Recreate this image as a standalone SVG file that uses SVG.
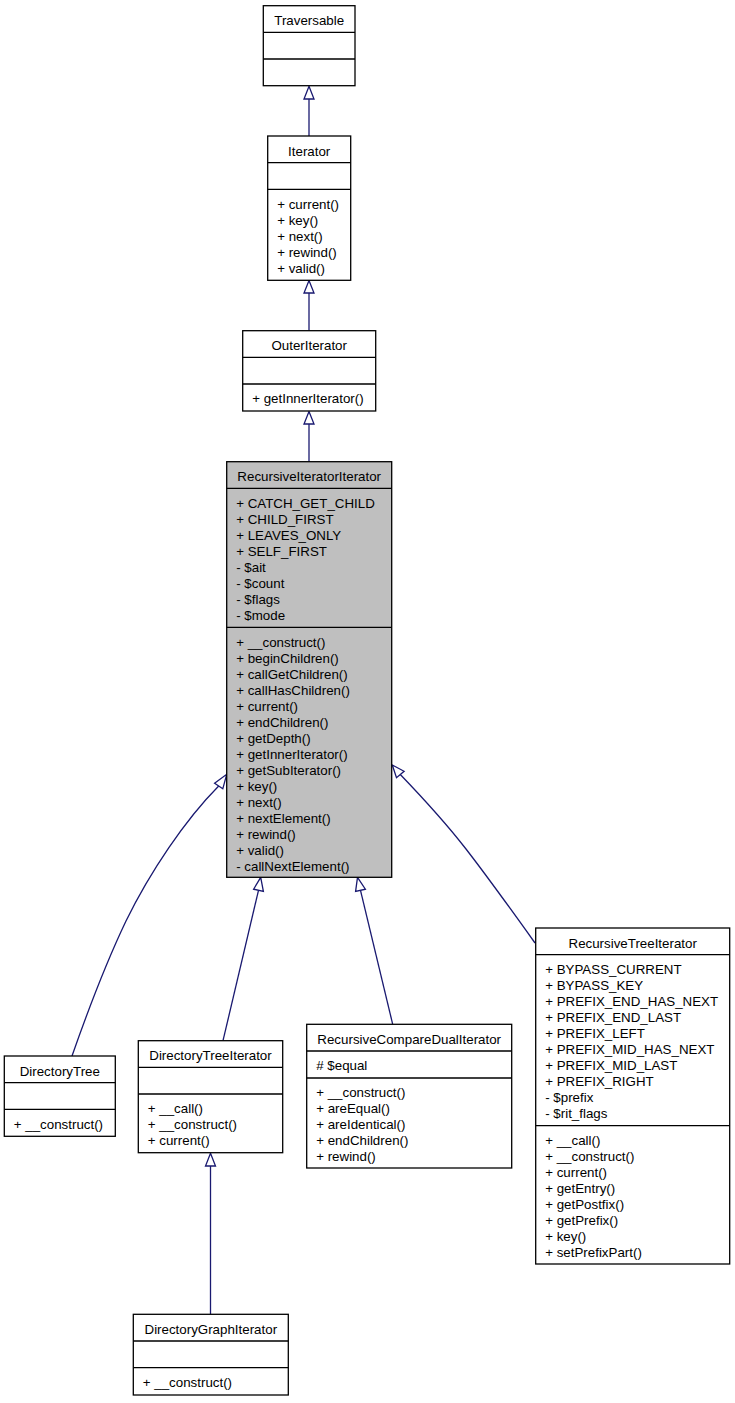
<svg xmlns="http://www.w3.org/2000/svg" width="735" height="1403" viewBox="0 0 735 1403">
<style>
text{font-family:"Liberation Sans",Helvetica,Arial,sans-serif;font-size:13.33px;fill:#000}
.t{text-anchor:middle}
.b{fill:#fff;stroke:#000;stroke-width:1.3}
.g{fill:#bfbfbf;stroke:#000;stroke-width:1.3}
.s{fill:none;stroke:#000;stroke-width:1.3}
.e{fill:none;stroke:#191970;stroke-width:1.3}
.h{fill:#fff;stroke:#191970;stroke-width:1.3}
</style>
<rect width="735" height="1403" fill="#fff"/>
<g id="connectors">
<path class="e" d="M309,136V99"/><polygon class="h" points="309,86.3 314,99 304,99"/>
<path class="e" d="M309,330.7V293"/><polygon class="h" points="309,280.5 314,293 304,293"/>
<path class="e" d="M309,461.7V424"/><polygon class="h" points="309,411.5 314,424 304,424"/>
<path class="e" d="M72,1056C86,1016 105,965 126,921C150,872 185,820 218.7,786"/><polygon class="h" points="226.7,774.3 222.8,788.8 214.6,783.2"/>
<path class="e" d="M223,1040.7L258.5,890.3"/><polygon class="h" points="260.7,877.3 263.4,891.4 253.6,889.2"/>
<path class="e" d="M392.7,1024.3L360.5,890.3"/><polygon class="h" points="357.5,877.3 365.4,889.2 355.6,891.4"/>
<path class="e" d="M535,943C515,915 490,880 466,849C445,822 420,795 400.3,774.5"/><polygon class="h" points="392.3,765 404.1,771.3 396.5,777.7"/>
<path class="e" d="M210.5,1314.3V1166"/><polygon class="h" points="210.5,1153.2 215.5,1166 205.5,1166"/>
</g>
<g id="Traversable">
<rect class="b" x="263.3" y="5.7" width="91.7" height="80"/>
<path class="s" d="M263.3,32.3H355M263.3,59H355"/>
<text class="t" x="309.2" y="25.2">Traversable</text>
</g>
<g id="Iterator">
<rect class="b" x="267.7" y="136" width="83" height="144.3"/>
<path class="s" d="M267.7,162.6H350.7M267.7,189.3H350.7"/>
<text class="t" x="309.2" y="155.5">Iterator</text>
<text x="277.2" y="208.7">+ current()</text>
<text x="277.2" y="224.7">+ key()</text>
<text x="277.2" y="240.7">+ next()</text>
<text x="277.2" y="256.7">+ rewind()</text>
<text x="277.2" y="272.7">+ valid()</text>
</g>
<g id="OuterIterator">
<rect class="b" x="242.7" y="330.7" width="133" height="80.3"/>
<path class="s" d="M242.7,357.3H375.7M242.7,384H375.7"/>
<text class="t" x="309.2" y="350.2">OuterIterator</text>
<text x="252.2" y="403.4">+ getInnerIterator()</text>
</g>
<g id="RecursiveIteratorIterator">
<rect class="g" x="226.7" y="461.7" width="165" height="415.6"/>
<path class="s" d="M226.7,488.3H391.7M226.7,627.3H391.7"/>
<text class="t" x="309.2" y="481.2">RecursiveIteratorIterator</text>
<text x="236.2" y="507.7">+ CATCH_GET_CHILD</text>
<text x="236.2" y="523.7">+ CHILD_FIRST</text>
<text x="236.2" y="539.7">+ LEAVES_ONLY</text>
<text x="236.2" y="555.7">+ SELF_FIRST</text>
<text x="236.2" y="571.7">- $ait</text>
<text x="236.2" y="587.7">- $count</text>
<text x="236.2" y="603.7">- $flags</text>
<text x="236.2" y="619.7">- $mode</text>
<text x="236.2" y="646.7">+ __construct()</text>
<text x="236.2" y="662.7">+ beginChildren()</text>
<text x="236.2" y="678.7">+ callGetChildren()</text>
<text x="236.2" y="694.7">+ callHasChildren()</text>
<text x="236.2" y="710.7">+ current()</text>
<text x="236.2" y="726.7">+ endChildren()</text>
<text x="236.2" y="742.7">+ getDepth()</text>
<text x="236.2" y="758.7">+ getInnerIterator()</text>
<text x="236.2" y="774.7">+ getSubIterator()</text>
<text x="236.2" y="790.7">+ key()</text>
<text x="236.2" y="806.7">+ next()</text>
<text x="236.2" y="822.7">+ nextElement()</text>
<text x="236.2" y="838.7">+ rewind()</text>
<text x="236.2" y="854.7">+ valid()</text>
<text x="236.2" y="870.7">- callNextElement()</text>
</g>
<g id="DirectoryTree">
<rect class="b" x="4.3" y="1056" width="111" height="80.3"/>
<path class="s" d="M4.3,1082.7H115.3M4.3,1109.3H115.3"/>
<text class="t" x="59.8" y="1075.5">DirectoryTree</text>
<text x="13.8" y="1128.7">+ __construct()</text>
</g>
<g id="DirectoryTreeIterator">
<rect class="b" x="138.3" y="1040.7" width="144.4" height="112"/>
<path class="s" d="M138.3,1067.3H282.7M138.3,1094H282.7"/>
<text class="t" x="210.5" y="1060.2">DirectoryTreeIterator</text>
<text x="147.8" y="1113.4">+ __call()</text>
<text x="147.8" y="1129.4">+ __construct()</text>
<text x="147.8" y="1145.4">+ current()</text>
</g>
<g id="RecursiveCompareDualIterator">
<rect class="b" x="306.7" y="1024.3" width="205" height="143.7"/>
<path class="s" d="M306.7,1051H511.7M306.7,1078H511.7"/>
<text class="t" x="409.2" y="1043.8">RecursiveCompareDualIterator</text>
<text x="316.2" y="1070.4"># $equal</text>
<text x="316.2" y="1097.4">+ __construct()</text>
<text x="316.2" y="1113.4">+ areEqual()</text>
<text x="316.2" y="1129.4">+ areIdentical()</text>
<text x="316.2" y="1145.4">+ endChildren()</text>
<text x="316.2" y="1161.4">+ rewind()</text>
</g>
<g id="RecursiveTreeIterator">
<rect class="b" x="535.7" y="928" width="194" height="336"/>
<path class="s" d="M535.7,954.7H729.7M535.7,1125.7H729.7"/>
<text class="t" x="632.7" y="947.5">RecursiveTreeIterator</text>
<text x="545.2" y="974.1">+ BYPASS_CURRENT</text>
<text x="545.2" y="990.1">+ BYPASS_KEY</text>
<text x="545.2" y="1006.1">+ PREFIX_END_HAS_NEXT</text>
<text x="545.2" y="1022.1">+ PREFIX_END_LAST</text>
<text x="545.2" y="1038.1">+ PREFIX_LEFT</text>
<text x="545.2" y="1054.1">+ PREFIX_MID_HAS_NEXT</text>
<text x="545.2" y="1070.1">+ PREFIX_MID_LAST</text>
<text x="545.2" y="1086.1">+ PREFIX_RIGHT</text>
<text x="545.2" y="1102.1">- $prefix</text>
<text x="545.2" y="1118.1">- $rit_flags</text>
<text x="545.2" y="1145.1">+ __call()</text>
<text x="545.2" y="1161.1">+ __construct()</text>
<text x="545.2" y="1177.1">+ current()</text>
<text x="545.2" y="1193.1">+ getEntry()</text>
<text x="545.2" y="1209.1">+ getPostfix()</text>
<text x="545.2" y="1225.1">+ getPrefix()</text>
<text x="545.2" y="1241.1">+ key()</text>
<text x="545.2" y="1257.1">+ setPrefixPart()</text>
</g>
<g id="DirectoryGraphIterator">
<rect class="b" x="133.3" y="1314.3" width="155" height="80.7"/>
<path class="s" d="M133.3,1341H288.3M133.3,1367.7H288.3"/>
<text class="t" x="210.8" y="1333.8">DirectoryGraphIterator</text>
<text x="142.8" y="1387.1">+ __construct()</text>
</g>
</svg>
